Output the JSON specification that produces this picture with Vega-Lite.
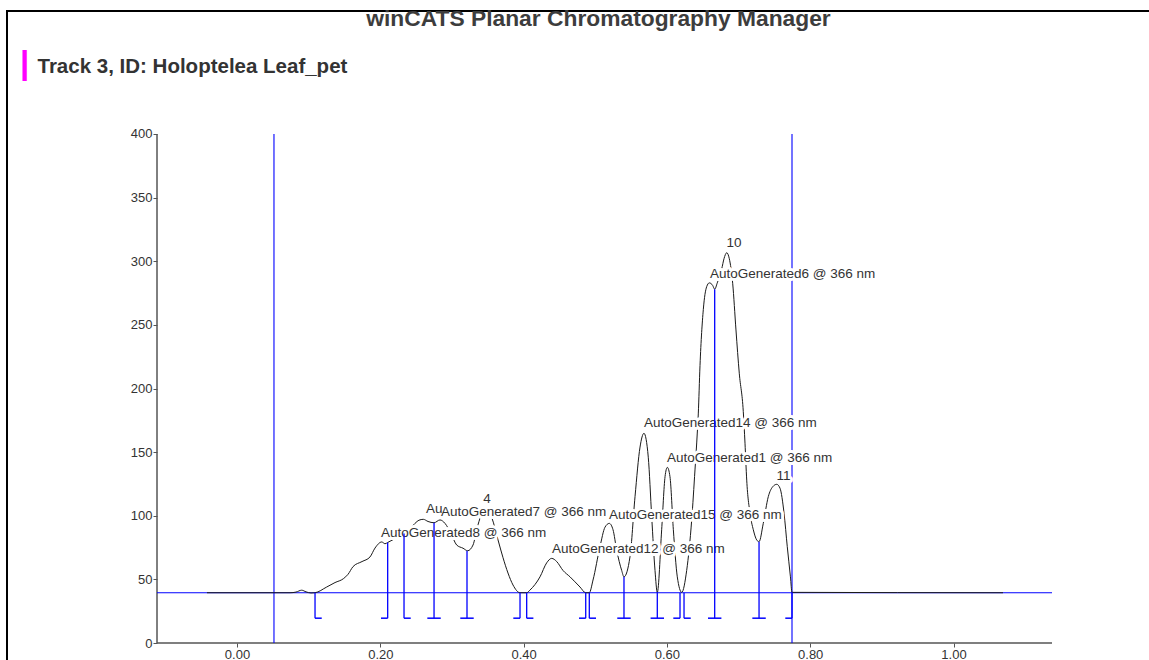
{
  "$schema": "https://vega.github.io/schema/vega-lite/v6.json",
  "width": 1143,
  "height": 652,
  "autosize": {"type": "none"},
  "padding": {"left": 7, "top": 11, "right": -1, "bottom": -3},
  "background": "white",
  "config": {
    "view": {"stroke": "#000000", "strokeWidth": 2, "fill": null},
    "font": "Liberation Sans"
  },
  "title": {
    "text": "winCATS Planar Chromatography Manager",
    "anchor": "middle",
    "frame": "group",
    "offset": -38,
    "baseline": "alphabetic",
    "dx": 20,
    "fontSize": 22.8,
    "fontWeight": "bold",
    "color": "#3d3d3d",
    "font": "Liberation Sans"
  },
  "datasets": {
    "axes": [
      {"x": -0.11165, "y": 0, "x2": 1.13747, "y2": 0},
      {"x": -0.11165, "y": 0, "x2": -0.11165, "y2": 400}
    ],
    "blue": [
      {"x": -0.11165, "y": 39.5, "x2": 1.13747, "y2": 39.5},
      {"x": 0.0516, "y": 0, "x2": 0.0516, "y2": 400},
      {"x": 0.7746, "y": 0, "x2": 0.7746, "y2": 400}
    ],
    "curve": [
      {"x": -0.0419, "y": 39.5}, {"x": 0.074, "y": 39.5}, {"x": 0.0823, "y": 40}, {"x": 0.0903, "y": 41.5},
      {"x": 0.0963, "y": 40.2}, {"x": 0.1033, "y": 39.3}, {"x": 0.1089, "y": 39.5}, {"x": 0.1252, "y": 44},
      {"x": 0.1368, "y": 47.5}, {"x": 0.1484, "y": 50.5}, {"x": 0.155, "y": 54}, {"x": 0.1619, "y": 60},
      {"x": 0.1745, "y": 64}, {"x": 0.1856, "y": 67.6}, {"x": 0.1926, "y": 74.6}, {"x": 0.202, "y": 79.4},
      {"x": 0.2066, "y": 78}, {"x": 0.2103, "y": 79}, {"x": 0.2205, "y": 82}, {"x": 0.2331, "y": 86},
      {"x": 0.2415, "y": 90}, {"x": 0.2484, "y": 94}, {"x": 0.254, "y": 96.5}, {"x": 0.26, "y": 97.2},
      {"x": 0.2666, "y": 95.5}, {"x": 0.275, "y": 94.5}, {"x": 0.2833, "y": 96.7}, {"x": 0.2903, "y": 94},
      {"x": 0.2987, "y": 86}, {"x": 0.3066, "y": 77}, {"x": 0.3154, "y": 74.5}, {"x": 0.322, "y": 72.5},
      {"x": 0.3294, "y": 77}, {"x": 0.335, "y": 90}, {"x": 0.3405, "y": 100}, {"x": 0.3489, "y": 105},
      {"x": 0.3559, "y": 98}, {"x": 0.3643, "y": 81}, {"x": 0.3713, "y": 67}, {"x": 0.3782, "y": 55},
      {"x": 0.3852, "y": 45.6}, {"x": 0.395, "y": 39.5}, {"x": 0.4043, "y": 39.5}, {"x": 0.4089, "y": 41.6},
      {"x": 0.4229, "y": 52}, {"x": 0.4322, "y": 63}, {"x": 0.4392, "y": 66.5}, {"x": 0.4462, "y": 64},
      {"x": 0.455, "y": 57}, {"x": 0.4648, "y": 52}, {"x": 0.4787, "y": 44}, {"x": 0.4867, "y": 39.5},
      {"x": 0.4917, "y": 39.5}, {"x": 0.4969, "y": 49.5}, {"x": 0.5066, "y": 75.7}, {"x": 0.5136, "y": 91},
      {"x": 0.5196, "y": 94}, {"x": 0.5248, "y": 89}, {"x": 0.5299, "y": 73}, {"x": 0.5369, "y": 57},
      {"x": 0.5401, "y": 52}, {"x": 0.5485, "y": 67.8}, {"x": 0.5555, "y": 115}, {"x": 0.5625, "y": 154},
      {"x": 0.568, "y": 164.8}, {"x": 0.574, "y": 146}, {"x": 0.5788, "y": 99}, {"x": 0.5834, "y": 57},
      {"x": 0.5866, "y": 39.8}, {"x": 0.5927, "y": 89}, {"x": 0.5974, "y": 130.7}, {"x": 0.6006, "y": 138},
      {"x": 0.6043, "y": 130.7}, {"x": 0.609, "y": 89}, {"x": 0.6145, "y": 52}, {"x": 0.6207, "y": 39.8},
      {"x": 0.6276, "y": 57}, {"x": 0.6346, "y": 96.7}, {"x": 0.6392, "y": 136}, {"x": 0.6424, "y": 165},
      {"x": 0.6438, "y": 180}, {"x": 0.6462, "y": 218}, {"x": 0.6508, "y": 262}, {"x": 0.6555, "y": 280},
      {"x": 0.6592, "y": 283}, {"x": 0.6639, "y": 281}, {"x": 0.6667, "y": 278}, {"x": 0.6703, "y": 283},
      {"x": 0.6765, "y": 294}, {"x": 0.6797, "y": 302}, {"x": 0.6835, "y": 306.7}, {"x": 0.6871, "y": 302},
      {"x": 0.6918, "y": 282.7}, {"x": 0.6964, "y": 246}, {"x": 0.701, "y": 212}, {"x": 0.7066, "y": 182},
      {"x": 0.709, "y": 157}, {"x": 0.7114, "y": 128}, {"x": 0.716, "y": 102}, {"x": 0.7206, "y": 89},
      {"x": 0.7253, "y": 81}, {"x": 0.7286, "y": 79.6}, {"x": 0.7345, "y": 94}, {"x": 0.7415, "y": 115},
      {"x": 0.7477, "y": 122.8}, {"x": 0.7533, "y": 124.7}, {"x": 0.7579, "y": 121.6}, {"x": 0.7635, "y": 102},
      {"x": 0.768, "y": 75.7}, {"x": 0.7724, "y": 52}, {"x": 0.7746, "y": 39.8}, {"x": 1.0691, "y": 39.5}
    ],
    "labels": [
      {"x": 0.201, "y": 86.4, "text": "AutoGenerated8 @ 366 nm"},
      {"x": 0.2638, "y": 105.3, "text": "Au"},
      {"x": 0.2847, "y": 102.9, "text": "AutoGenerated7 @ 366 nm"},
      {"x": 0.3437, "y": 113.2, "text": "4"},
      {"x": 0.4396, "y": 73.9, "text": "AutoGenerated12 @ 366 nm"},
      {"x": 0.5192, "y": 100.6, "text": "AutoGenerated15 @ 366 nm"},
      {"x": 0.568, "y": 172.9, "text": "AutoGenerated14 @ 366 nm"},
      {"x": 0.6001, "y": 145.4, "text": "AutoGenerated1 @ 366 nm"},
      {"x": 0.6601, "y": 290.0, "text": "AutoGenerated6 @ 366 nm"},
      {"x": 0.6832, "y": 314.3, "text": "10"},
      {"x": 0.753, "y": 131.2, "text": "11"}
    ],
    "markers": [
      {"x": 0.1089, "y": 39.5, "side": "start"},
      {"x": 0.2103, "y": 79, "side": "end"},
      {"x": 0.2331, "y": 86, "side": "start"},
      {"x": 0.275, "y": 94.5, "side": "both"},
      {"x": 0.321, "y": 72.5, "side": "both"},
      {"x": 0.395, "y": 39.5, "side": "end"},
      {"x": 0.4043, "y": 39.5, "side": "start"},
      {"x": 0.4867, "y": 39.5, "side": "end"},
      {"x": 0.4917, "y": 39.5, "side": "start"},
      {"x": 0.5401, "y": 52, "side": "both"},
      {"x": 0.5866, "y": 39.8, "side": "both"},
      {"x": 0.6183, "y": 39.5, "side": "end"},
      {"x": 0.6239, "y": 39.5, "side": "start"},
      {"x": 0.6667, "y": 278, "side": "both"},
      {"x": 0.7286, "y": 79.6, "side": "both"},
      {"x": 0.7746, "y": 39.8, "side": "end"}
    ]
  },
  "encoding": {
    "x": {
      "field": "x",
      "type": "quantitative",
      "scale": {"domain": [-0.32101, 1.27425], "nice": false, "zero": false},
      "axis": {
        "values": [0, 0.2, 0.4, 0.6, 0.8, 1.0],
        "format": ".2f",
        "domain": false,
        "grid": false,
        "offset": -20,
        "tickSize": 4,
        "tickColor": "#555555",
        "labelColor": "#333333",
        "labelFont": "Liberation Sans",
        "labelFontSize": 13,
        "labelPadding": 1,
        "title": "|",
        "titleColor": "#ff00ff",
        "titleFont": "Liberation Sans",
        "titleFontSize": 33,
        "titleFontWeight": "bold",
        "titleAngle": 0,
        "titleAlign": "center",
        "titleBaseline": "middle",
        "titleX": 17,
        "titleY": -579.5
      }
    },
    "y": {
      "field": "y",
      "type": "quantitative",
      "scale": {"domain": [-15.717, 496.66], "nice": false, "zero": false},
      "axis": {
        "values": [0, 50, 100, 150, 200, 250, 300, 350, 400],
        "domain": false,
        "grid": false,
        "offset": -150,
        "tickSize": 4,
        "tickColor": "#555555",
        "labelColor": "#333333",
        "labelFont": "Liberation Sans",
        "labelFontSize": 13,
        "labelPadding": 1,
        "title": "Track 3, ID: Holoptelea Leaf_pet",
        "titleColor": "#333333",
        "titleFont": "Liberation Sans",
        "titleFontSize": 20.5,
        "titleFontWeight": "bold",
        "titleAngle": 0,
        "titleAlign": "left",
        "titleBaseline": "middle",
        "titleX": -120,
        "titleY": 55
      }
    }
  },
  "layer": [
    {
      "data": {"name": "axes"},
      "mark": {"type": "rule", "color": "#555555", "strokeWidth": 1.5},
      "encoding": {"x2": {"field": "x2"}, "y2": {"field": "y2"}}
    },
    {
      "data": {"name": "blue"},
      "mark": {"type": "rule", "color": "#0000ff", "strokeWidth": 1.1},
      "encoding": {"x2": {"field": "x2"}, "y2": {"field": "y2"}}
    },
    {
      "data": {"name": "curve"},
      "mark": {"type": "line", "color": "#1a1a1a", "strokeWidth": 1, "interpolate": "monotone"},
      "encoding": {}
    },
    {
      "data": {"name": "labels"},
      "mark": {"type": "text", "align": "left", "baseline": "middle", "font": "Liberation Sans", "fontSize": 13.5, "fill": "#ffffff", "stroke": "#ffffff", "strokeWidth": 6, "strokeJoin": "round"},
      "encoding": {"text": {"field": "text"}}
    },
    {
      "data": {"name": "labels"},
      "mark": {"type": "text", "align": "left", "baseline": "middle", "font": "Liberation Sans", "fontSize": 13.5, "fill": "#333333"},
      "encoding": {"text": {"field": "text"}}
    },
    {
      "data": {"name": "markers"},
      "mark": {"type": "rule", "color": "#0000ff"},
      "encoding": {
        "y2": {"datum": 19.5},
        "strokeWidth": {"field": "side", "type": "ordinal", "scale": {"domain": ["start", "end", "both"], "range": [1.3, 1.3, 2.6]}, "legend": null}
      }
    },
    {
      "data": {"name": "markers"},
      "mark": {"type": "point", "filled": false, "color": "#0000ff", "strokeWidth": 1.5, "size": 180, "opacity": 1},
      "encoding": {
        "y": {"datum": 19.5},
        "shape": {"field": "side", "type": "nominal", "scale": {"domain": ["start", "end", "both"], "range": ["M0,0L1,0", "M-1,0L0,0", "M-1,0L1,0"]}, "legend": null}
      }
    }
  ]
}
